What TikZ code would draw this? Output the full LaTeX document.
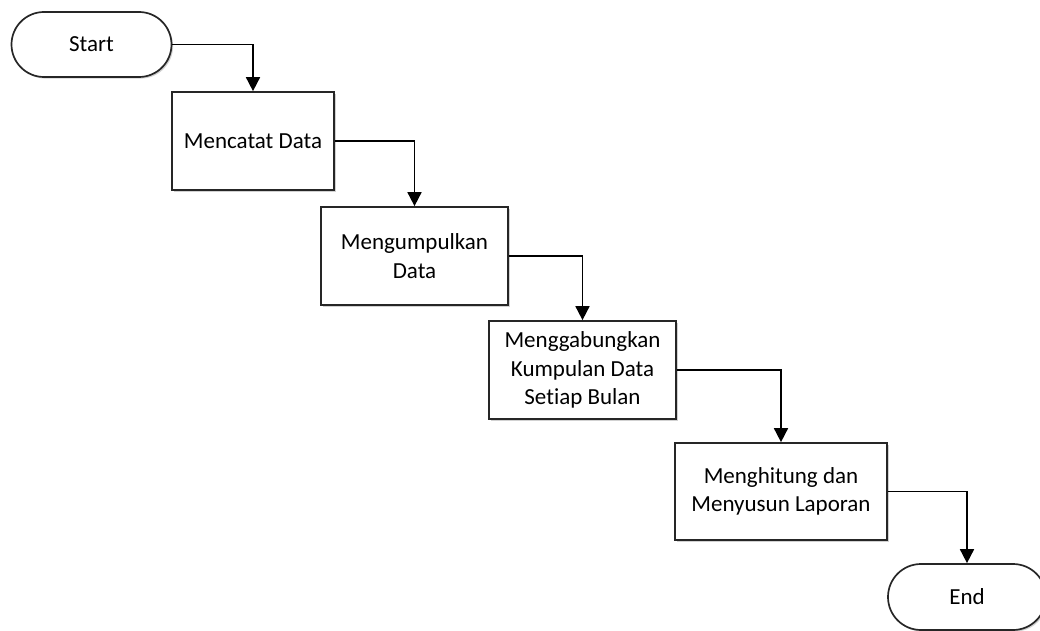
\documentclass[tikz,border=0pt]{standalone}
\usepackage{fontspec}
\setmainfont[Ligatures=NoCommon]{Carlito}
\usetikzlibrary{shapes.misc,arrows.meta,shadows}
\begin{document}
\begin{tikzpicture}[x=0.5pt,y=-0.5pt,
  font=\fontsize{11.5}{14.2}\selectfont,
  base/.style={draw=black!85,line width=0.85pt,fill=white,align=center,inner sep=2pt,
    drop shadow={shadow xshift=0.8pt,shadow yshift=-0.8pt,fill=black,opacity=0.18}},
  process/.style={base,rectangle},
  terminal/.style={base,rounded rectangle},
  flow/.style={draw=black,line width=0.85pt,-{Triangle[width=7pt,length=7pt]}}]
\useasboundingbox (0,0) rectangle (1040,631);
\node[terminal,minimum width=84pt,minimum height=32.5pt] (start) at (91.5,44.5) {Start};
\node[process,minimum width=81pt,minimum height=49pt] (p1) at (253,141) {Mencatat Data};
\node[process,minimum width=93.5pt,minimum height=49pt] (p2) at (414.5,256) {Mengumpulkan\\Data};
\node[process,minimum width=93.5pt,minimum height=49pt] (p3) at (582.5,370) {Menggabungkan\\Kumpulan Data\\Setiap Bulan};
\node[process,minimum width=106pt,minimum height=48.5pt] (p4) at (781,491.5) {Menghitung dan\\Menyusun Laporan};
\node[terminal,minimum width=83pt,minimum height=33pt] (end) at (967,597) {End};
\draw[flow] (start.east) -| (p1.north);
\draw[flow] (p1.east) -| (p2.north);
\draw[flow] (p2.east) -| (p3.north);
\draw[flow] (p3.east) -| (p4.north);
\draw[flow] (p4.east) -| (end.north);
\end{tikzpicture}
\end{document}
